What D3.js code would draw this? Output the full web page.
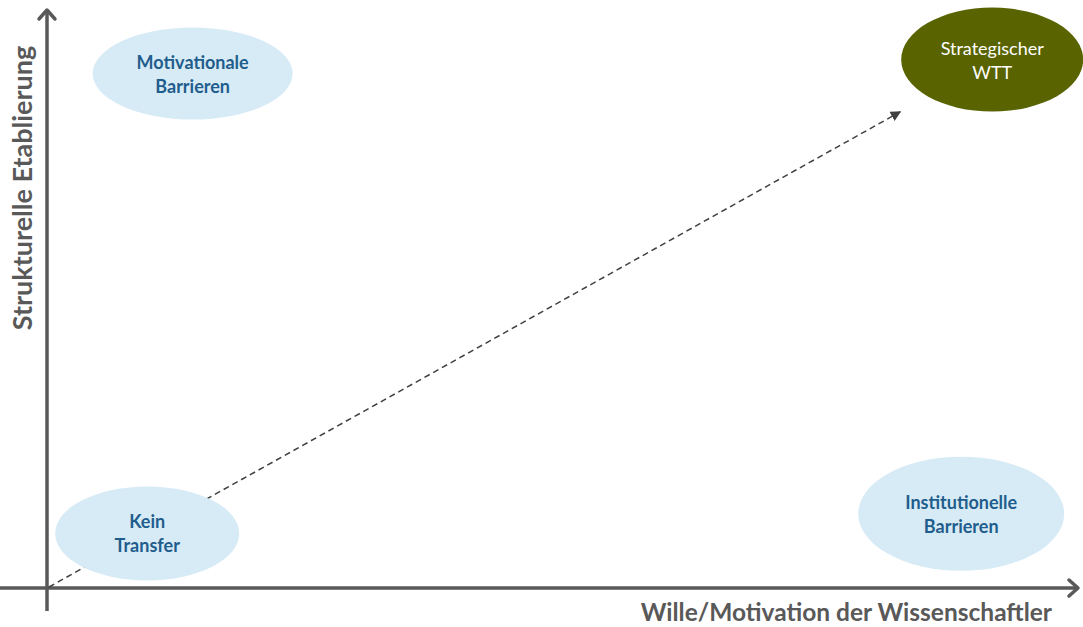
<!DOCTYPE html>
<html>
<head>
<meta charset="utf-8">
<script src="https://cdn.jsdelivr.net/npm/d3@7"></script>
<style>
  body { margin: 0; background: #fff; }
  svg { display: block; }
</style>
</head>
<body>
<svg id="chart" width="1083" height="627"></svg>
<script>
// quadrant labels and their position on the two axes (0..100)
var labels = [["Motivationale", "Barrieren"], ["Strategischer", "WTT"], ["Kein", "Transfer"], ["Institutionelle", "Barrieren"]];
var motivation = [14.1, 91.5, 9.7, 88.5];
var etablierung = [88.7, 91.1, 9.4, 12.8];
var highlight = [false, true, false, false];

// trend arrow from origin to upper right
var trendX = [0, 82.6];
var trendY = [0, 82.1];

var xTitle = "Wille/Motivation der Wissenschaftler";
var yTitle = "Strukturelle Etablierung";

var width = 1083, height = 627;
var svg = d3.select("#chart");

var x = d3.scaleLinear().domain([0, 100]).range([47, 1080]);
var y = d3.scaleLinear().domain([0, 100]).range([588, 8]);

// ellipse sizes in px
var rx = [100, 91, 92, 103];
var ry = [46, 52, 47, 57];

var font = "Lato, 'Open Sans', sans-serif";

var defs = svg.append("defs");
defs.append("marker")
    .attr("id", "tri")
    .attr("viewBox", "0 0 10 10")
    .attr("refX", 9).attr("refY", 5)
    .attr("markerWidth", 7).attr("markerHeight", 7)
    .attr("markerUnits", "strokeWidth")
    .attr("orient", "auto")
    .append("path")
    .attr("d", "M0,0 L10,5 L0,10 Z")
    .attr("fill", "#404040");

// axes
var axisColor = "#595959";
svg.append("line")
    .attr("x1", x(0)).attr("y1", 611)
    .attr("x2", x(0)).attr("y2", y(100) + 2)
    .attr("stroke", axisColor).attr("stroke-width", 3.5);
svg.append("path")
    .attr("d", "M" + (x(0) - 8) + "," + (y(100) + 11) + " L" + x(0) + "," + (y(100) + 2) + " L" + (x(0) + 8) + "," + (y(100) + 11))
    .attr("fill", "none").attr("stroke", axisColor).attr("stroke-width", 3.5)
    .attr("stroke-linecap", "round").attr("stroke-linejoin", "round");

svg.append("line")
    .attr("x1", 0).attr("y1", y(0))
    .attr("x2", x(100) - 2).attr("y2", y(0))
    .attr("stroke", axisColor).attr("stroke-width", 3.5);
svg.append("path")
    .attr("d", "M" + (x(100) - 11) + "," + (y(0) - 8) + " L" + (x(100) - 2) + "," + y(0) + " L" + (x(100) - 11) + "," + (y(0) + 8))
    .attr("fill", "none").attr("stroke", axisColor).attr("stroke-width", 3.5)
    .attr("stroke-linecap", "round").attr("stroke-linejoin", "round");

// dashed trend
svg.append("line")
    .attr("x1", x(trendX[0]) + 2).attr("y1", y(trendY[0]) - 1)
    .attr("x2", x(trendX[1])).attr("y2", y(trendY[1]))
    .attr("stroke", "#404040").attr("stroke-width", 1.5)
    .attr("stroke-dasharray", "6,4")
    .attr("marker-end", "url(#tri)");

// bubbles
var g = svg.selectAll("g.bubble")
    .data(labels)
    .enter().append("g")
    .attr("class", "bubble")
    .attr("transform", function(d, i) { return "translate(" + x(motivation[i]) + "," + y(etablierung[i]) + ")"; });

g.append("ellipse")
    .attr("rx", function(d, i) { return rx[i]; })
    .attr("ry", function(d, i) { return ry[i]; })
    .attr("fill", function(d, i) { return highlight[i] ? "#596300" : "#d7ebf6"; });

g.append("text")
    .attr("text-anchor", "middle")
    .style("font-family", font)
    .style("font-size", "18px")
    .style("font-weight", function(d, i) { return highlight[i] ? "normal" : "bold"; })
    .attr("fill", function(d, i) { return highlight[i] ? "#ffffff" : "#1f5d8c"; })
    .selectAll("tspan")
    .data(function(d) { return d; })
    .enter().append("tspan")
    .attr("x", 0)
    .attr("y", function(d, j) { return j === 0 ? -5 : 19; })
    .text(function(d) { return d; });

// axis titles
svg.append("text")
    .attr("x", 1052).attr("y", 621)
    .attr("text-anchor", "end")
    .style("font-family", font)
    .style("font-size", "24.5px")
    .style("font-weight", "bold")
    .attr("fill", axisColor)
    .text(xTitle);

svg.append("text")
    .attr("transform", "translate(32,188) rotate(-90)")
    .attr("text-anchor", "middle")
    .style("font-family", font)
    .style("font-size", "27px")
    .style("font-weight", "bold")
    .attr("fill", axisColor)
    .text(yTitle);
</script>
</body>
</html>
